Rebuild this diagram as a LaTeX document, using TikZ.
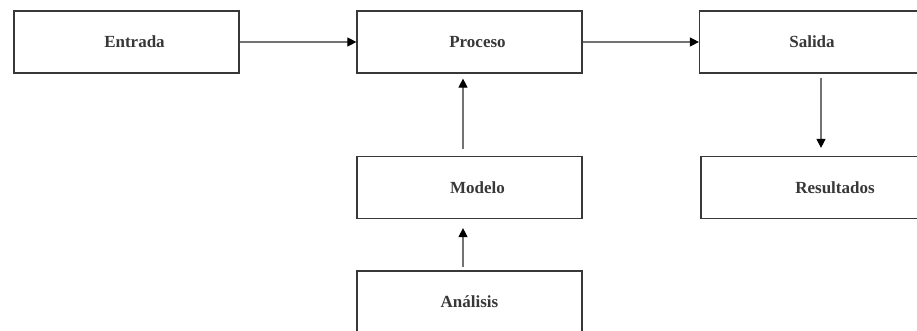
\documentclass[tikz,border=0pt]{standalone}
\usepackage{fontspec}
\setmainfont{Liberation Serif}
\usetikzlibrary{%
  arrows.meta%
}

\begin{document}
\begin{tikzpicture}[x=1pt,y=-1pt,
    caja/.style={draw=black!78,line width=1.2pt,rectangle,
      minimum width=225pt,minimum height=62pt,inner sep=0pt,
      font=\fontsize{17}{20}\selectfont\bfseries,text=black!78},
    flecha/.style={draw=black!55,line width=1.1pt,
      -{Triangle[length=9pt,width=9pt,fill=black,color=black]}}
  ]
      \fill [white] (0,0) rectangle (917,331);
      \clip (0,0) rectangle (917,331);
      % fila de arriba
      \node [caja] (entrada) at (126.5,42) {\hspace*{16pt}Entrada};
      \node [caja] (proceso) at (469.5,42) {\hspace*{16pt}Proceso};
      \node [caja] (salida) at (812,42) {Salida};
      % fila del medio
      \node [caja] (modelo) at (469.5,187.5) {\hspace*{16pt}Modelo};
      \node [caja,minimum width=268pt] (resultados) at (835,187.5) {Resultados};
      % abajo
      \node [caja] (analisis) at (469.5,302) {Análisis};
      \begin{scope}[flecha]
        \draw (entrada.east) -- (proceso.west);
        \draw (proceso.east) -- (salida.west);
        \draw [shorten <=7pt,shorten >=5pt]
          ([xshift=-6.5pt]modelo.north) -- ([xshift=-6.5pt]proceso.south);
        \draw [shorten <=3pt,shorten >=9pt]
          ([xshift=-6.5pt]analisis.north) -- ([xshift=-6.5pt]modelo.south);
        \draw [shorten <=4pt,shorten >=8pt]
          ([xshift=9pt]salida.south) -- ([xshift=9pt]salida.south |- resultados.north);
      \end{scope}
    \end{tikzpicture}
\end{document}
